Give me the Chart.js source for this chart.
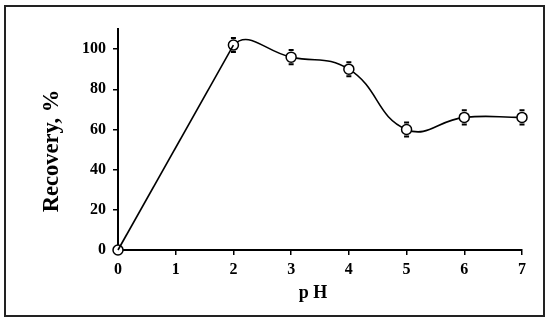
<!DOCTYPE html>
<html><head><meta charset="utf-8">
<script src="https://cdn.jsdelivr.net/npm/chart.js@4.4.1/dist/chart.umd.min.js"></script>
<style>html,body{margin:0;padding:0;background:#fff}#wrap{width:550px;height:321px}</style>
</head><body><div id="wrap"><canvas id="c" width="550" height="321"></canvas></div>
<script>
const phValues = [0, 2, 3, 4, 5, 6, 7];
const recovery = [0, 102, 96, 90, 60, 66, 66];
const errors = [0, 3.5, 3.5, 3.5, 3.5, 3.5, 3.5];
const xTicks = [0, 1, 2, 3, 4, 5, 6, 7];
const yTicks = [0, 20, 40, 60, 80, 100];
const xTitle = 'p H';
const yTitle = 'Recovery, %';

const frame = {
  id: 'frame',
  beforeDraw(chart) {
    const ctx = chart.ctx;
    ctx.save();
    ctx.fillStyle = '#fff';
    ctx.fillRect(0, 0, chart.width, chart.height);
    ctx.strokeStyle = '#222';
    ctx.lineWidth = 2;
    ctx.strokeRect(5, 6, 539, 310);
    ctx.restore();
  },
  afterDraw(chart) {
    const ctx = chart.ctx;
    ctx.save();
    ctx.fillStyle = '#000';
    ctx.textAlign = 'center';
    ctx.textBaseline = 'middle';
    ctx.font = 'bold 18px "Liberation Serif"';
    ctx.fillText(xTitle, 313, 293);
    ctx.translate(52, 151);
    ctx.rotate(-Math.PI / 2);
    ctx.font = 'bold 22.5px "Liberation Serif"';
    ctx.fillText(yTitle, 0, 0);
    ctx.restore();
  }
};
const errBars = {
  id: 'errBars',
  afterDatasetsDraw(chart) {
    const ctx = chart.ctx, xs = chart.scales.x, ys = chart.scales.y;
    ctx.save();
    ctx.strokeStyle = '#000';
    ctx.lineWidth = 2;
    phValues.forEach((p, i) => {
      const e = errors[i];
      if (!e) return;
      const x = xs.getPixelForValue(p);
      const y1 = ys.getPixelForValue(recovery[i] + e);
      const y2 = ys.getPixelForValue(recovery[i] - e);
      ctx.beginPath();
      ctx.moveTo(x - 2.5, y1); ctx.lineTo(x + 2.5, y1);
      ctx.moveTo(x - 2.5, y2); ctx.lineTo(x + 2.5, y2);
      ctx.stroke();
    });
    ctx.restore();
  }
};
const pts = phValues.map((p, i) => ({x: p, y: recovery[i]}));

new Chart(document.getElementById('c'), {
  type: 'scatter',
  data: {
    datasets: [{
      data: pts.slice(0, 2),
      showLine: true,
      borderColor: '#000',
      borderWidth: 1.6,
      tension: 0,
      pointRadius: 0,
      clip: false
    }, {
      data: pts,
      showLine: true,
      borderColor: '#000',
      borderWidth: 1.6,
      tension: 0.45,
      segment: {borderColor: c => c.p0DataIndex === 0 ? 'rgba(0,0,0,0)' : '#000'},
      pointRadius: 5,
      pointBackgroundColor: '#fff',
      pointBorderColor: '#000',
      pointBorderWidth: 1.5,
      clip: false
    }]
  },
  plugins: [frame, errBars],
  options: {
    responsive: false,
    animation: false,
    layout: {padding: {top: 29, right: 28, left: 0, bottom: 0}},
    plugins: {legend: {display: false}, tooltip: {enabled: false}},
    scales: {
      x: {
        type: 'linear', min: 0, max: 7,
        afterBuildTicks(s) { s.ticks = xTicks.map(v => ({value: v})); },
        afterFit(s) { s.height = 71; },
        grid: {display: true, drawOnChartArea: false, drawTicks: true, tickLength: 5, color: '#000', lineWidth: 1.5},
        border: {display: true, color: '#000', width: 2},
        ticks: {color: '#000', padding: 5, font: {family: 'Liberation Serif', size: 16, weight: 'bold'}},
        title: {display: false}
      },
      y: {
        min: 0, max: 110,
        afterBuildTicks(s) { s.ticks = yTicks.map(v => ({value: v})); },
        afterFit(s) { s.width = 118; },
        grid: {display: true, drawOnChartArea: false, drawTicks: true, tickLength: 5, color: '#000', lineWidth: 1.5},
        border: {display: true, color: '#000', width: 2},
        ticks: {color: '#000', padding: 7, font: {family: 'Liberation Serif', size: 16, weight: 'bold'}},
        title: {display: false}
      }
    }
  }
});
</script></body></html>
